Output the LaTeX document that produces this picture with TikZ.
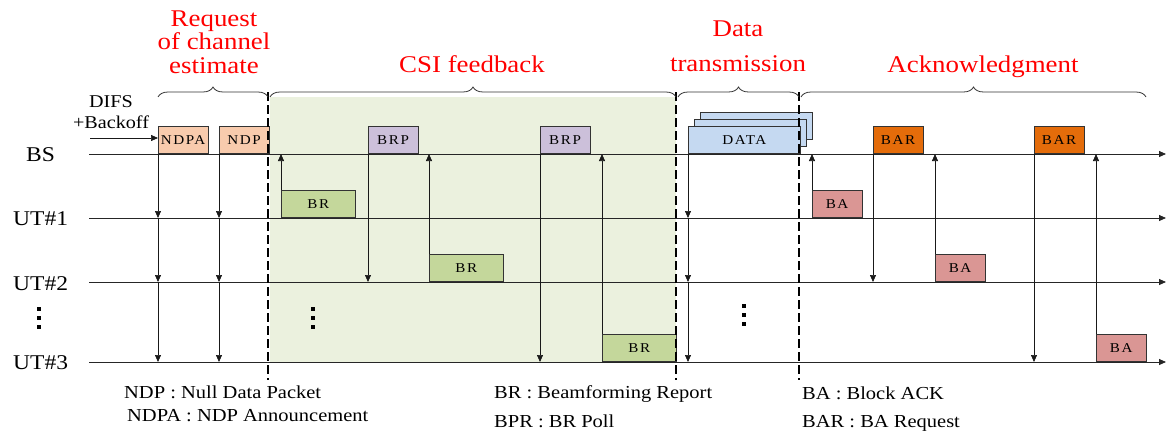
\documentclass[tikz,border=0pt]{standalone}
\usepackage{fontspec}
\setmainfont[FakeStretch=1.12]{Liberation Serif}
\newfontfamily\pktfont[FakeStretch=1.12,LetterSpace=12]{Liberation Serif}
\usepackage{tikz}
\definecolor{NdpOrange}{RGB}{248,203,173}
\definecolor{BrpPurple}{RGB}{204,192,218}
\definecolor{BrGreen}{RGB}{196,215,155}
\definecolor{CsiShade}{RGB}{235,241,222}
\definecolor{DataBlue}{RGB}{197,217,241}
\definecolor{BarOrange}{RGB}{228,108,10}
\definecolor{BaPink}{RGB}{218,150,148}
\usetikzlibrary{
	positioning,
	calc,
	arrows.meta,
	decorations.pathreplacing
}

\begin{document}
\begin{tikzpicture}[
		x=1pt, y=-1pt,
		pkt/.style={draw=black!80, line width=0.7pt, inner sep=0pt, minimum height=27.5pt, anchor=south west, font=\pktfont\fontsize{13.5}{13.5}\selectfont},
		shortpkt/.style={pkt, minimum width=49.5pt},
		longpkt/.style={pkt, minimum width=74pt},
		lane/.style={font=\fontsize{21}{21}\selectfont, anchor=base west, inner sep=0pt},
		stage/.style={font=\fontsize{24}{24}\selectfont, text=red, anchor=base, inner sep=0pt},
		note/.style={font=\fontsize{18.3}{18.3}\selectfont, anchor=base west, inner sep=0pt},
		msg/.style={-{Triangle[length=7pt,width=6pt]}, black!90, line width=0.7pt},
		bound/.style={line width=2.3pt, dash pattern=on 9pt off 4pt},
		phasebrace/.style={decorate, decoration={brace, amplitude=10pt}, black!80, line width=0.8pt}
	]
	\useasboundingbox (0,0) rectangle (1168,431);

	% shaded CSI feedback area
	\fill[CsiShade] (270,97) rectangle (676,362);

	% time lines
	\coordinate (bs) at (89,154);
	\coordinate (ut1) at (89,218);
	\coordinate (ut2) at (89,282);
	\coordinate (ut3) at (89,362);
	\coordinate (axisEnd) at (1166,0);
	\foreach \row in {bs,ut1,ut2,ut3}
		\draw[msg, black!85, line width=0.8pt] (\row) -- (\row -| axisEnd);

	\node[lane] (bsLabel) at (26,161) {BS};
	\node[lane] (ut1Label) at (13,225) {UT\#1};
	\node[lane] (ut2Label) at (13,290) {UT\#2};
	\node[lane] (ut3Label) at (13,369) {UT\#3};
	% vertical dots
	\foreach \x/\y in {39/309, 313/309, 744/306}
		\foreach \k in {0,1,2}
			\fill (\x-1.6,\y+9*\k-1.6) rectangle (\x+1.6,\y+9*\k+1.6);

	% frames on BS
	\node[shortpkt, fill=NdpOrange] (ndpa) at (158,154) {NDPA};
	\node[shortpkt, fill=NdpOrange] (ndp) at (219,154) {NDP};
	\node[shortpkt, fill=BrpPurple] (brp1) at (368,154) {BRP};
	\node[shortpkt, fill=BrpPurple] (brp2) at (540,154) {BRP};
	\node[pkt, fill=DataBlue, minimum width=112pt] (data3) at (700,140) {};
	\node[pkt, fill=DataBlue, minimum width=112pt] (data2) at (694,147) {};
	\node[pkt, fill=DataBlue, minimum width=112pt] (data) at (688,154) {DATA};
	\node[shortpkt, fill=BarOrange] (bar1) at (873,154) {BAR};
	\node[shortpkt, fill=BarOrange] (bar2) at (1034,154) {BAR};

	% frames on the UTs
	\node[longpkt, fill=BrGreen] (br1) at (281,218) {BR};
	\node[longpkt, fill=BrGreen] (br2) at (429,282) {BR};
	\node[longpkt, fill=BrGreen] (br3) at (602,362) {BR};
	\node[shortpkt, fill=BaPink] (ba1) at (812,218) {BA};
	\node[shortpkt, fill=BaPink] (ba2) at (935,282) {BA};
	\node[shortpkt, fill=BaPink] (ba3) at (1096,362) {BA};

	% broadcast frames
	\foreach \src in {ndpa,ndp,data}{
		\draw[msg] (\src.south west) -- (\src.south west |- ut1);
		\draw[msg] (\src.south west |- ut1) -- (\src.south west |- ut2);
		\draw[msg] (\src.south west |- ut2) -- (\src.south west |- ut3);
	}
	% polls
	\draw[msg] (brp1.south west) -- (brp1.south west |- ut2);
	\draw[msg] (brp2.south west) -- (brp2.south west |- ut3);
	\draw[msg] (bar1.south west) -- (bar1.south west |- ut2);
	\draw[msg] (bar2.south west) -- (bar2.south west |- ut3);
	% replies
	\foreach \rep in {br1,br2,br3,ba1,ba2,ba3}
		\draw[msg] (\rep.north west) -- (\rep.north west |- bs);

	% DIFS
	\node[font=\fontsize{18}{18}\selectfont, anchor=base, inner sep=0pt] (difs) at (111,107) {DIFS};
	\node[font=\fontsize{18}{18}\selectfont, anchor=base, inner sep=0pt] (backoff) at (111,128) {+Backoff};
	\coordinate (difsStart) at (90,138);
	\draw[msg] (difsStart) -- (difsStart -| ndpa.west);

	% phase boundaries
	\draw[bound] (268,92) -- (268,380);
	\draw[bound] (676,92) -- (676,380);
	\draw[bound] (799,92) -- (799,380);

	\draw[phasebrace] (158,97) -- (268,97);
	\draw[phasebrace] (270,97) -- (676,97);
	\draw[phasebrace] (678,97) -- (799,97);
	\draw[phasebrace] (801,97) -- (1146,97);

	\node[stage] (reqA) at (214,26) {Request};
	\node[stage] (reqB) at (214,49) {of channel};
	\node[stage] (reqC) at (214,73) {estimate};
	\node[stage] (csi) at (472,72) {CSI feedback};
	\node[stage] (dataA) at (738,36) {Data};
	\node[stage] (dataB) at (738,71) {transmission};
	\node[stage] (ack) at (983,72) {Acknowledgment};

	% legend
	\node[note] (ndpNote) at (124,398) {NDP : Null Data Packet};
	\node[note] (ndpaNote) at (127,421) {NDPA : NDP Announcement};
	\node[note] (brNote) at (494,398) {BR : Beamforming Report};
	\node[note] (bprNote) at (494,427) {BPR : BR Poll};
	\node[note] (baNote) at (802,399) {BA : Block ACK};
	\node[note] (barNote) at (802,427) {BAR : BA Request};
\end{tikzpicture}
\end{document}
